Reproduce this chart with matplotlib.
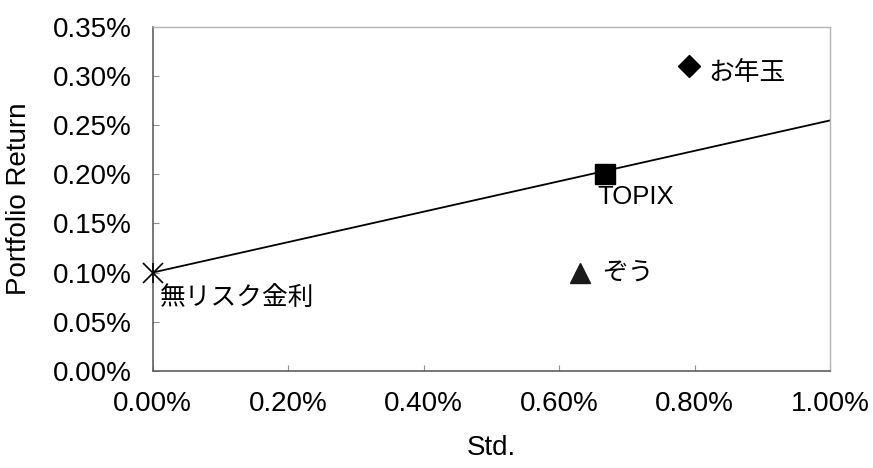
'''Risk/return scatter of three portfolios against the capital market line.'''

import matplotlib
matplotlib.use("Agg")
import matplotlib.pyplot as plt
from matplotlib.ticker import PercentFormatter, MultipleLocator

plt.rcParams['font.family'] = ['Liberation Sans', 'Noto Sans CJK JP']

# portfolio points: standard deviation and return (as fractions)
names = ["無リスク金利", "TOPIX", "お年玉", "ぞう"]
std = [0.0, 0.00667, 0.00792, 0.00631]
ret = [0.0010, 0.0020, 0.0031, 0.0010]

# capital market line end points
cml_std = [0.0, 0.010]
cml_ret = [0.0010, 0.00255]

fig = plt.figure(figsize=(8.73, 4.68), dpi=100)
ax = fig.add_axes([0.175, 0.208, 0.776, 0.734])

ax.plot(cml_std, cml_ret, color='black', lw=1.3, zorder=2)

# risk free rate: excel style star marker (x with a vertical bar)
ax.plot(std[0], ret[0], marker='x', ms=15, mew=1.2, color='black', ls='none',
        zorder=3, clip_on=False)
ax.plot(std[0], ret[0], marker='|', ms=15, mew=1.2, color='black', ls='none',
        zorder=3, clip_on=False)
ax.plot(std[1], ret[1], marker='s', ms=14, color='black', ls='none', zorder=3)
ax.plot(std[2], ret[2], marker='D', ms=11, color='black', ls='none', zorder=3)
ax.plot(std[3], ret[3], marker='^', ms=14, color='#1a1a1a', ls='none', zorder=3)

# point labels, offsets in points
offsets = [(5, -19), (-5.5, -16.5), (13.5, -5), (16, 0)]
for name, x, y, off in zip(names, std, ret, offsets):
    ax.annotate(name, (x, y), xytext=off, textcoords='offset points',
                ha='left', va='center', fontsize=18.5, color='black')

ax.set_xlim(0, 0.01)
ax.set_ylim(0, 0.0035)
ax.xaxis.set_major_locator(MultipleLocator(0.002))
ax.yaxis.set_major_locator(MultipleLocator(0.0005))
ax.xaxis.set_major_formatter(PercentFormatter(xmax=1, decimals=2))
ax.yaxis.set_major_formatter(PercentFormatter(xmax=1, decimals=2))
ax.tick_params(direction='in', length=4, width=0.8, color='#909090',
               labelsize=20, pad=15, labelcolor='black')

for side in ['left', 'bottom']:
    ax.spines[side].set_color('#606060')
    ax.spines[side].set_linewidth(1.2)
for side in ['top', 'right']:
    ax.spines[side].set_color('#b5b5b5')
    ax.spines[side].set_linewidth(1.0)

ax.set_xlabel("Std.", fontsize=20, va='center')
ax.set_ylabel("Portfolio Return", fontsize=20, va='center')
ax.xaxis.set_label_coords(0.5, -0.225)
ax.yaxis.set_label_coords(-0.198, 0.5)

plt.savefig("out.png", dpi=100)
